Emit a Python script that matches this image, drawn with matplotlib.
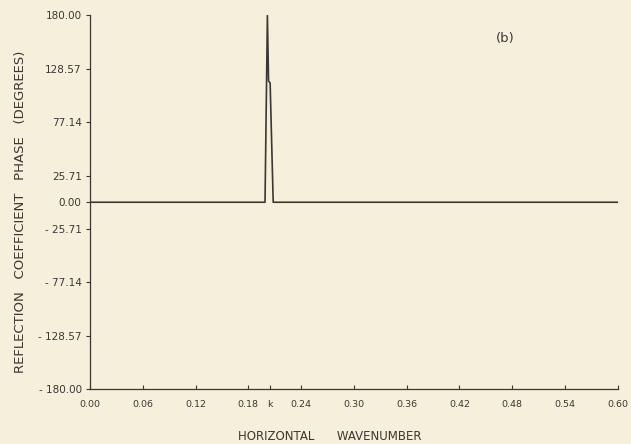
import matplotlib
matplotlib.use("Agg")
import matplotlib.pyplot as plt

# horizontal wavenumber vs reflection coefficient phase (degrees)
wavenumber = [0.000, 0.1990, 0.2017, 0.2030, 0.2048, 0.2083, 0.600]
phase = [0.0, 0.0, 180.0, 117.0, 115.0, 0.0, 0.0]

x_ticks = [0.00, 0.06, 0.12, 0.18, 0.205, 0.24, 0.30, 0.36, 0.42, 0.48, 0.54, 0.60]
x_labels = ["0.00", "0.06", "0.12", "0.18", "k", "0.24", "0.30", "0.36",
            "0.42", "0.48", "0.54", "0.60"]
y_ticks = [180.00, 128.57, 77.14, 25.71, 0.00, -25.71, -77.14, -128.57, -180.00]
y_labels = ["180.00", "128.57", "77.14", "25.71", "0.00", "- 25.71", "- 77.14",
            "- 128.57", "- 180.00"]

paper = "#f6efdc"
ink = "#3b3733"

plt.rcParams["font.family"] = ["DejaVu Sans"]
fig = plt.figure(figsize=(6.31, 4.44), dpi=100, facecolor=paper)
ax = fig.add_axes([0.1426, 0.1239, 0.8364, 0.8412], facecolor=paper)

ax.plot(wavenumber, phase, color=ink, lw=1.2)

ax.set_xlim(0, 0.6)
ax.set_ylim(-180, 180)
ax.set_xticks(x_ticks)
ax.set_xticklabels(x_labels, fontsize=6.8, color=ink)
ax.set_yticks(y_ticks)
ax.set_yticklabels(y_labels, fontsize=7.5, color=ink)
ax.tick_params(axis="x", direction="in", length=3, width=0.8, color=ink, pad=8)
ax.tick_params(axis="y", direction="out", length=3, width=0.8, color=ink, pad=3)

ax.spines['right'].set_visible(False)
ax.spines['top'].set_visible(False)
ax.spines['left'].set_color(ink)
ax.spines['bottom'].set_color(ink)
ax.spines['left'].set_linewidth(0.9)
ax.spines['bottom'].set_linewidth(0.9)

ax.text(0.472, 158, "(b)", fontsize=9.5, color=ink, ha="center", va="center")

fig.text(0.033, 0.522, "REFLECTION   COEFFICIENT   PHASE   (DEGREES)", rotation=90,
         fontsize=9.5, color=ink, ha="center", va="center")
fig.text(0.523, 0.016, "HORIZONTAL      WAVENUMBER", fontsize=8.5, color=ink,
         ha="center", va="center")

fig.savefig("out.png", dpi=100, facecolor=paper)
